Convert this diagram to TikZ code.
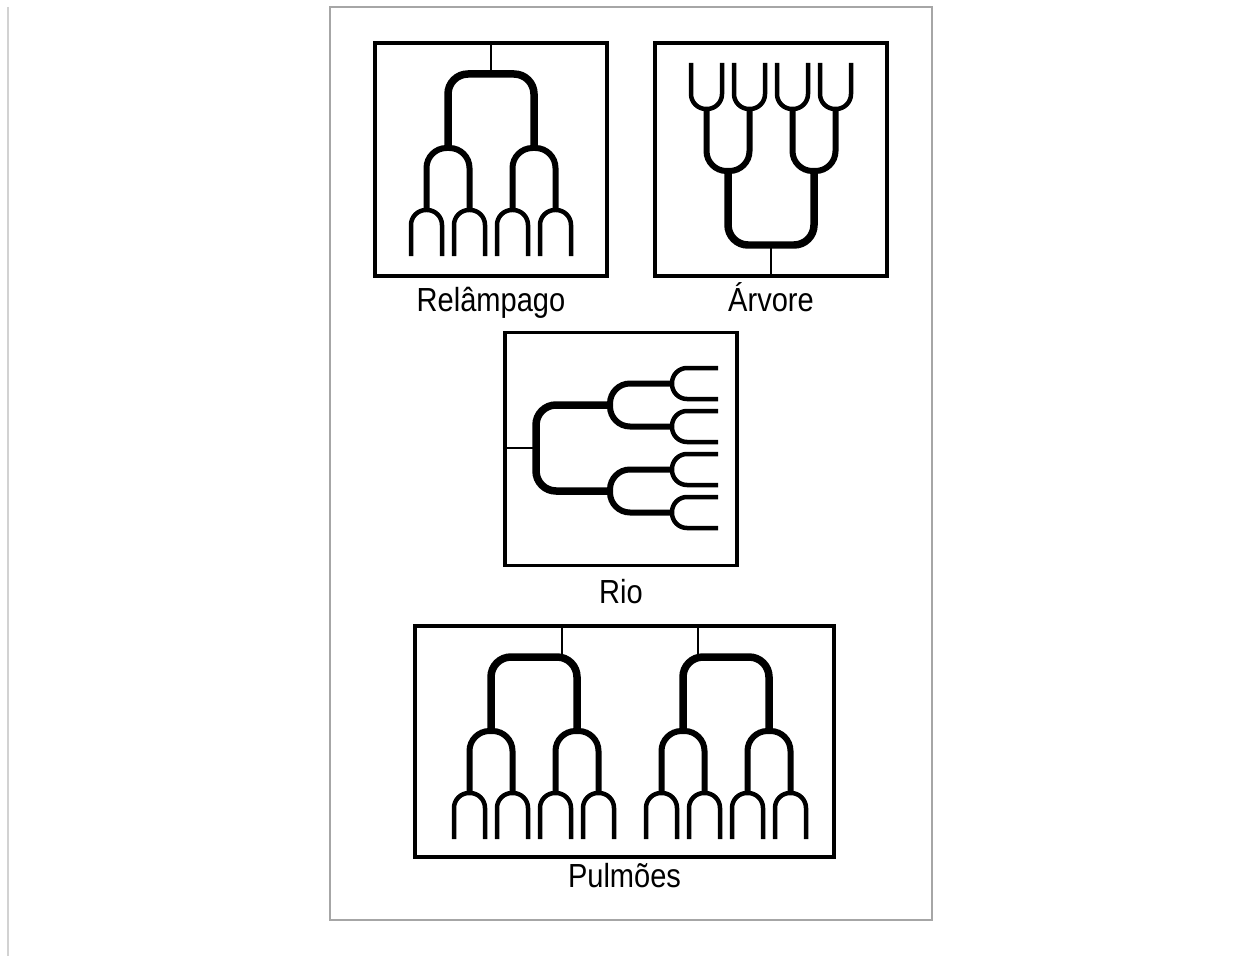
\documentclass[tikz,border=0pt]{standalone}
\usepackage{fontspec}
\newfontfamily\rotfont{Liberation Sans}[FakeStretch=0.87]
\usetikzlibrary{positioning}
\tikzset{
	caixa/.style = {draw, line width=0.065cm, inner sep=0pt,
     minimum width=4.64cm, minimum height=4.66cm},
	rotulo/.style = {font=\rotfont\fontsize{19pt}{22pt}\selectfont,
     inner sep=0pt, text height=13pt, text depth=0pt},
	tronco/.style = {line width=0.045cm},
	galho1/.style = {line width=0.15cm, rounded corners=0.4cm},
	galho2/.style = {line width=0.12cm, rounded corners=0.4cm},
	galho3/.style = {line width=0.09cm, rounded corners=0.3cm},
	pics/ramo/.style = {code={
		\draw[tronco] (#1,0) -- (#1,31);
		\draw[galho1] (-43,105) -- (-43,31) -- (43,31) -- (43,105);
		\foreach \xc in {-43,43}
			\draw[galho2] (\xc-21.5,167) -- (\xc-21.5,105) -- (\xc+21.5,105) -- (\xc+21.5,167);
		\foreach \xc in {-64.5,-21.5,21.5,64.5}
			\draw[galho3] (\xc-15.5,213) -- (\xc-15.5,167) -- (\xc+15.5,167) -- (\xc+15.5,213);
	}},
}

\begin{document}
\begin{tikzpicture}[x=0.02cm, y=-0.02cm]
    \useasboundingbox (0,0) rectangle (1250,956);
    \draw[gray!35, line width=0.03cm] (8,7) -- (8,956);
    \draw[gray!70, line width=0.03cm, fill=white] (330,7) rectangle (932,920);
    % caixas
    \node[caixa] (relampago) at (491,159.5) {};
    \node[caixa] (arvore) at (771,159.5) {};
    \node[caixa] (rio) at (621,449) {};
    \node[caixa, minimum width=8.38cm, minimum height=4.62cm] (pulmoes) at (624.5,741.5) {};
    \node[rotulo, below=0.22cm of relampago] (lrelampago) {Relâmpago};
    \node[rotulo, below=0.22cm of arvore] (larvore) {Árvore};
    \node[rotulo, below=0.26cm of rio] (lrio) {Rio};
    \node[rotulo, below=0.12cm of pulmoes] (lpulmoes) {Pulmões};
    % ramificacoes
    \pic at (491,43) {ramo=0};
    \pic[yscale=-1] at (771,276) {ramo=0};
    \pic[rotate=90] at (505,448) {ramo=0};
    \pic at (534,626) {ramo=28};
    \pic at (726,626) {ramo=-28};
\end{tikzpicture}
\end{document}
